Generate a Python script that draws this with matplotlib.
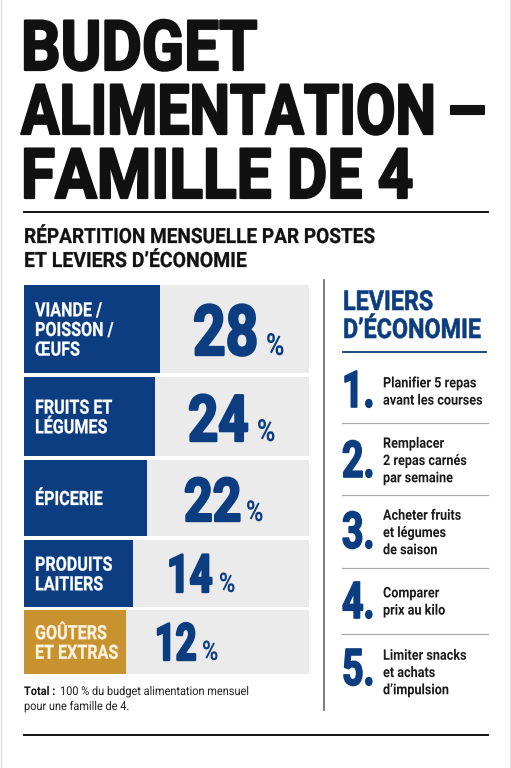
import matplotlib
matplotlib.use("Agg")
import matplotlib.pyplot as plt
import matplotlib.patheffects as pe
from matplotlib.transforms import Affine2D

COND = 'Roboto'
BODY = 'Roboto'

NAVY = '#0b3d80'
GOLD = '#c8932f'
GREY = '#ebebeb'
INK = '#111111'
CREAM = '#fbf3e2'

categories = ["VIANDE /\nPOISSON /\nŒUFS", "FRUITS ET\nLÉGUMES", "ÉPICERIE", "PRODUITS\nLAITIERS", "GOÛTERS\nET EXTRAS"]
shares = [28, 24, 22, 14, 12]
drawn_lengths = [136, 131, 123, 109, 102]
levers = ["Planifier 5 repas\navant les courses", "Remplacer\n2 repas carnés\npar semaine",
          "Acheter fruits\net légumes\nde saison", "Comparer\nprix au kilo",
          "Limiter snacks\net achats\nd’impulsion"]

row_top = [285, 377, 460, 540, 610]
row_bot = [373, 456, 536, 607, 674]
num_x = [193, 188, 184, 167, 155]
num_base = [355, 441, 521, 592, 660]
num_fs = [41, 38, 36, 28.5, 26]
num_sy = [1.23, 1.22, 1.2, 1.33, 1.42]
pct_x = [266, 257, 246, 219, 202]
pct_fs = [18, 18, 17, 16, 16]
lever_y = [392, 461, 533, 602, 673]
lever_base = [407, 477, 548, 618, 685]
seps = [423, 495, 568, 634]

W, H = 511, 768
fig = plt.figure(figsize=(W/100, H/100), dpi=100, facecolor='white')
ax = fig.add_axes([0, 0, 1, 1])
ax.set_xlim(0, W)
ax.set_ylim(H, 0)
ax.axis('off')


class Stretch(pe.AbstractPathEffect):
    """Draw a text taller than its font, about its anchor line, with optional extra weight."""
    def __init__(self, y_data, sy, lw=0.0):
        super().__init__()
        self.y0 = ax.transData.transform((0, y_data))[1]
        self.sy = sy
        self.lw = lw

    def draw_path(self, renderer, gc, tpath, affine, rgbFace=None):
        aff = affine + Affine2D().translate(0, -self.y0).scale(1, self.sy).translate(0, self.y0)
        gc0 = renderer.new_gc()
        gc0.copy_properties(gc)
        gc0.set_linewidth(self.lw)
        if self.lw > 0 and rgbFace is not None:
            gc0.set_foreground(rgbFace[:3])
        renderer.draw_path(gc0, tpath, aff, rgbFace)
        gc0.restore()


def label(x, y, s, fs, sy=1.0, lw=0.0, color=INK, weight='bold', va='baseline', family=COND, ls=1.2):
    t = ax.text(x, y, s, fontsize=fs, family=family, weight=weight, color=color, va=va, ha='left', linespacing=ls)
    t.set_path_effects([Stretch(y, sy, lw)])
    return t


# Title
label(21, 70, "BUDGET", 44.7, sy=1.12, lw=1.6)
label(21, 134, "ALIMENTATION", 41.2, sy=1.215, lw=1.6)
label(448, 134, "—", 36, sy=1.4, lw=1.5)
label(21, 198, "FAMILLE DE 4", 44.7, sy=1.12, lw=1.6)
ax.plot([24, 488], [212, 212], color=INK, lw=1.4)
label(24, 243, "RÉPARTITION MENSUELLE PAR POSTES", 13.7, sy=1.1, lw=0.2)
label(24, 267, "ET LEVIERS D’ÉCONOMIE", 14.0, sy=1.08, lw=0.2)

# Bars
for i, (cat, s, ln) in enumerate(zip(categories, shares, drawn_lengths)):
    top, bot = row_top[i], row_bot[i]
    mid = (top + bot) / 2
    ax.barh(mid, 285, height=bot-top, left=24, color=GREY, lw=0)
    ax.barh(mid, ln, height=bot-top, left=24, color=GOLD if i == 4 else NAVY, lw=0)
    label(35, mid + 1.5, cat, 11.6, sy=1.22, lw=0.2, color='white' if i < 4 else CREAM, va='center', ls=1.09)
    label(num_x[i], num_base[i], str(s), num_fs[i], sy=num_sy[i], lw=1.7, color=NAVY)
    label(pct_x[i], num_base[i], '%', pct_fs[i], sy=1.22, color=NAVY)

# Total note
label(24, 695, "Total :", 7.9, sy=1.1, color=INK)
label(60, 695, "100 % du budget alimentation mensuel", 7.9, sy=1.1, color='#222222', weight='normal', family=BODY)
label(24, 710, "pour une famille de 4.", 7.9, sy=1.1, color='#222222', weight='normal', family=BODY)

# Right panel
ax.plot([324, 324], [280, 710], color='#666666', lw=1.2)
for txt, y in zip(["LEVIERS", "D’ÉCONOMIE"], [310, 338]):
    label(343, y, txt, 16.8, sy=1.17, lw=0.4, color=NAVY)
ax.plot([343, 486], [352, 352], color=NAVY, lw=1.3)
for i, (txt, y) in enumerate(zip(levers, lever_y)):
    label(342, lever_base[i], f"{i+1}.", 27, sy=1.35, lw=1.2, color=NAVY)
    label(383, y, txt, 9.1, sy=1.15, color='#1a1a1a', va='center', ls=1.2)
for y in seps:
    ax.plot([342, 488], [y, y], color='#aaaaaa', lw=0.9)

ax.plot([24, 488], [735, 735], color=INK, lw=1.4)
# faint sheet edges
ax.plot([0.5, 0.5], [0, H], color='#dddddd', lw=1)
ax.plot([510.3, 510.3], [0, H], color='#e4e4e4', lw=1)
fig.savefig('out.png', dpi=100, facecolor='white')
